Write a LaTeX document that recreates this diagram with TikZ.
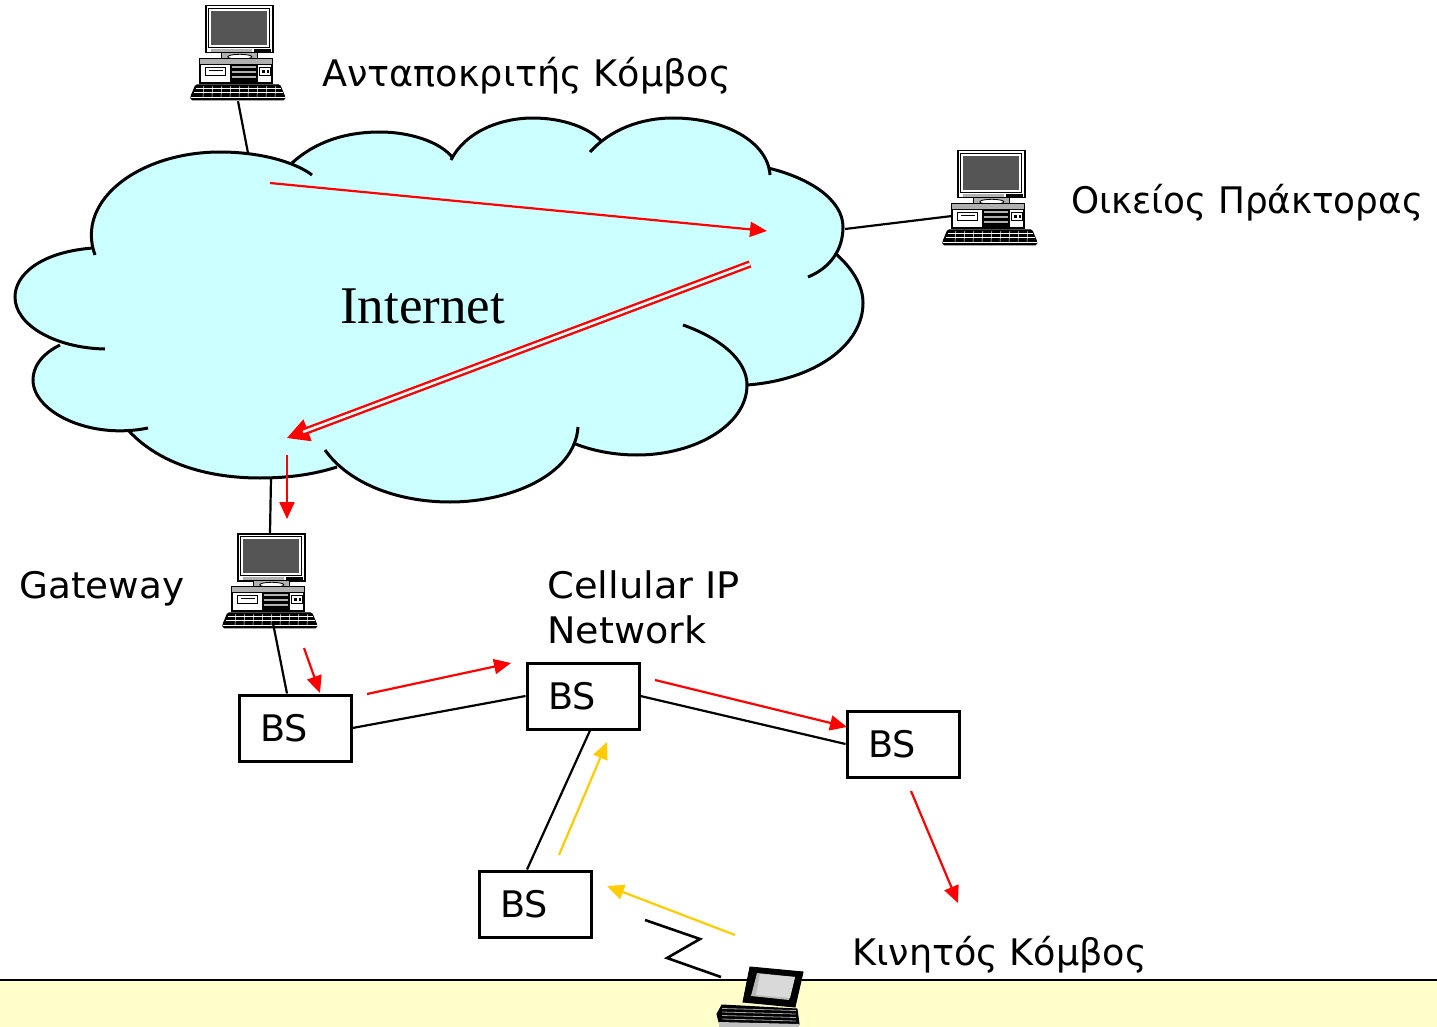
\documentclass[tikz,border=0pt]{standalone}
\usepackage{fontspec}
\setmainfont{DejaVu Sans}
\newfontfamily\timesfont{Liberation Serif}
\usetikzlibrary{arrows.meta}
\definecolor{cloudcol}{HTML}{CCFFFF}
\definecolor{bandcol}{HTML}{FFFFCC}
\definecolor{goldcol}{HTML}{FFCC00}
\definecolor{screencol}{HTML}{555555}
\definecolor{panelcol}{HTML}{B0B0B0}
\tikzset{
  lbl/.style={anchor=base west, inner sep=0pt, font=\fontsize{36.6}{43}\selectfont},
  bsbox/.style={draw=black, line width=3pt, fill=white, minimum height=66pt, inner xsep=21pt, inner ysep=0pt, font=\fontsize{36.6}{43}\selectfont},
  conn/.style={draw=black, line width=2.2pt},
  lobe/.style={draw=black, line width=3pt},
  redarr/.style={draw=red, line width=2.2pt, -{Triangle[length=17pt,width=15pt]}},
  goldarr/.style={draw=goldcol, line width=2.2pt, -{Triangle[length=17pt,width=15pt]}},
  iconspot/.style={minimum width=96pt, minimum height=96pt, inner sep=0pt},
  computer/.pic={
    % monitor
    \filldraw[fill=white, draw=black, line width=1.4pt] (16,1) rectangle (83,48);
    \draw[black, line width=0.8pt] (19,3.5) rectangle (80,43);
    \fill[screencol] (21.5,6) rectangle (77.5,40);
    \fill[black] (64,44) rectangle (81,47);
    \fill[panelcol] (21,44) rectangle (62,47);
    % stand
    \filldraw[fill=panelcol, draw=black, line width=1pt] (32,48) rectangle (68,56);
    \filldraw[fill=white, draw=black, line width=0.8pt] (50,52) ellipse [x radius=12pt, y radius=2.5pt];
    % base unit
    \filldraw[fill=panelcol, draw=black, line width=1.3pt] (10,54) rectangle (83,79);
    \filldraw[fill=white, draw=black, line width=1pt] (11,60) rectangle (82,78);
    \filldraw[fill=white, draw=black, line width=1.2pt] (16,63) rectangle (36,71);
    \draw[black, line width=0.8pt] (19,66) -- (33,66);
    \fill[black] (40,59) rectangle (68,79);
    \fill[panelcol] (42,61) rectangle (66,63.5);
    \fill[panelcol] (42,66) rectangle (66,68.5);
    \fill[panelcol] (42,71) rectangle (66,73.5);
    \filldraw[fill=white, draw=black, line width=1pt] (70,63) rectangle (81,71);
    \fill[black] (72,65.5) rectangle (75,68.5);
    \fill[black] (77,65.5) rectangle (79.5,68.5);
    % keyboard
    \filldraw[fill=black, draw=black, line width=1pt, rounded corners=1.5pt] (6,80) -- (90,80) -- (95,92) -- (95,95) -- (1,95) -- (1,92) -- cycle;
    \draw[white, line width=0.7pt] (6,84) -- (91,84);
    \draw[white, line width=0.7pt] (4,88) -- (93,88);
    \draw[white, line width=0.9pt] (1,92.5) -- (95,92.5);
    \foreach \k in {14,23,32,41,50,59,68,77,86} {\draw[white, line width=0.5pt] (\k,81) -- (\k-0.8,92);}
  }
}
\begin{document}
\begin{tikzpicture}[x=1pt,y=-1pt]
\useasboundingbox (0,0) rectangle (1437,1027);
\fill[white] (0,0) rectangle (1437,1027);

% bottom band
\fill[bandcol] (0,980) rectangle (1437,1027);
\coordinate (bandL) at (0,980);
\coordinate (bandR) at (1437,980);
\draw[black, line width=2.6pt] (bandL) -- (bandR);

% cloud fill
\fill[cloudcol]
  (95,255) .. controls (75,200) and (140,152) .. (220,152) .. controls (260,152) and (295,162) .. (312,175)
  -- (292,163) .. controls (315,142) and (345,132) .. (380,132) .. controls (410,132) and (440,142) .. (452,157)
  -- (451,160) .. controls (465,132) and (500,118) .. (533,118) .. controls (563,118) and (590,128) .. (602,142)
  -- (590,152) .. controls (610,130) and (640,118) .. (673,118) .. controls (725,118) and (768,142) .. (770,175)
  -- (768,168) .. controls (810,178) and (843,200) .. (843,227) .. controls (843,250) and (830,268) .. (808,277)
  -- (835,253) .. controls (852,268) and (863,285) .. (863,303) .. controls (863,345) and (815,380) .. (747,385)
  -- (683,325) .. controls (720,338) and (747,360) .. (747,385) .. controls (747,425) and (695,455) .. (637,455) .. controls (612,455) and (590,450) .. (573,443)
  -- (578,427) .. controls (575,475) and (510,502) .. (450,502) .. controls (400,502) and (350,485) .. (325,450)
  -- (337,467) .. controls (315,474) and (290,478) .. (260,478) .. controls (210,478) and (160,465) .. (128,430)
  -- (148,428) .. controls (90,440) and (33,412) .. (33,380) .. controls (33,368) and (40,355) .. (60,345)
  -- (105,349) .. controls (55,348) and (15,325) .. (15,297) .. controls (15,275) and (40,252) .. (93,248)
  -- cycle;
% cloud outlines (lobes)
\draw[lobe] (95,255) .. controls (75,200) and (140,152) .. (220,152) .. controls (260,152) and (295,162) .. (312,175);
\draw[lobe] (292,163) .. controls (315,142) and (345,132) .. (380,132) .. controls (410,132) and (440,142) .. (452,157);
\draw[lobe] (451,160) .. controls (465,132) and (500,118) .. (533,118) .. controls (563,118) and (590,128) .. (602,142);
\draw[lobe] (590,152) .. controls (610,130) and (640,118) .. (673,118) .. controls (725,118) and (768,142) .. (770,175);
\draw[lobe] (768,168) .. controls (810,178) and (843,200) .. (843,227) .. controls (843,250) and (830,268) .. (808,277);
\draw[lobe] (835,253) .. controls (852,268) and (863,285) .. (863,303) .. controls (863,345) and (815,380) .. (747,385);
\draw[lobe] (683,325) .. controls (720,338) and (747,360) .. (747,385) .. controls (747,425) and (695,455) .. (637,455) .. controls (612,455) and (590,450) .. (573,443);
\draw[lobe] (578,427) .. controls (575,475) and (510,502) .. (450,502) .. controls (400,502) and (350,485) .. (325,450);
\draw[lobe] (337,467) .. controls (315,474) and (290,478) .. (260,478) .. controls (210,478) and (160,465) .. (128,430);
\draw[lobe] (148,428) .. controls (90,440) and (33,412) .. (33,380) .. controls (33,368) and (40,355) .. (60,345);
\draw[lobe] (105,349) .. controls (55,348) and (15,325) .. (15,297) .. controls (15,275) and (40,252) .. (93,248);

\node[anchor=base west, inner sep=0pt, font=\timesfont\fontsize{53}{60}\selectfont] (inet) at (340,323) {Internet};

% cloud attachment points
\coordinate (cl1) at (248,153);
\coordinate (cl2) at (845,229);
\coordinate (cl3) at (271,478);

% computers
\node[iconspot] (c1) at (238,53) {};
\pic at (c1.north west) {computer};
\node[iconspot] (c2) at (990,198) {};
\pic at (c2.north west) {computer};
\node[iconspot] (gw) at (270,581) {};
\pic at (gw.north west) {computer};
\coordinate (c2port) at (952,216);

% labels
\node[lbl] (t1) at (322,87) {Ανταποκριτής Κόμβος};
\node[lbl] (t2) at (1071,214) {\scalebox{0.977}[1]{Οικείος Πράκτορας}};
\node[lbl] (t3) at (19,598) {\scalebox{1.02}[1]{Gateway}};
\node[lbl] (t4) at (547,598) {\scalebox{1.05}[1]{Cellular IP}};
\node[lbl] (t5) at (547,643) {\scalebox{1.04}[1]{Network}};
\node[lbl] (t6) at (852,965) {Κινητός Κόμβος};

% BS nodes
\node[bsbox] (bs1) at (295,728) {\makebox[70pt][l]{BS}};
\node[bsbox] (bs2) at (583,696) {\makebox[70pt][l]{BS}};
\node[bsbox] (bs3) at (903,744) {\makebox[70pt][l]{BS}};
\node[bsbox] (bs4) at (535,904) {\makebox[70pt][l]{BS}};

% black connectors
\draw[conn] (c1.south) -- (cl1);
\draw[conn] (cl2) -- (c2port);
\draw[conn] (cl3) -- (gw.north);
\draw[conn] ([xshift=3pt,yshift=6pt]gw.south) -- ([xshift=-8pt]bs1.north);
\draw[conn] (bs1.east) -- (bs2.west);
\draw[conn] (bs2.east) -- (bs3.west);
\draw[conn] ([xshift=7pt]bs2.south) -- ([xshift=-8pt]bs4.north);

% laptop (mobile node)
\coordinate (z1) at (645,920);
\coordinate (z2) at (700,939);
\coordinate (z3) at (667,958);
\coordinate (z4) at (721,977);
\draw[conn, line width=2.6pt] (z1) -- (z2) -- (z3) -- (z4);
\filldraw[fill=black, draw=black, line width=1pt] (750,967) -- (803,972) -- (795,1007) -- (743,1002) -- cycle;
\fill[gray!55] (757,973) -- (795,977) -- (789,1000) -- (751,996) -- cycle;
\fill[gray!30] (760,974) -- (795,977) -- (790,998) -- (756,995) -- cycle;
\filldraw[fill=black, draw=black, line width=1pt] (722,1005) -- (797,1009) -- (799,1024) -- (719,1022) -- (717,1014) -- cycle;
\foreach \s in {1008.5,1012,1015.5,1019} {\draw[gray!70, line width=0.8pt] (722,\s) -- (796,\s+2);}
\fill[gray!50] (719,1022) -- (799,1024) -- (799,1027) -- (719,1027) -- cycle;

% red arrows
\coordinate (r1a) at (270,183); \coordinate (r1b) at (767,231);
\draw[redarr] (r1a) -- (r1b);
\coordinate (r2a) at (750,264); \coordinate (r2b) at (287,438); \coordinate (r2c) at (303,432);
\draw[draw=red, line width=2pt, -{Triangle[length=22pt,width=23pt]}] (r2a) -- (r2b);
\draw[draw=red, line width=2.4pt, double=cloudcol, double distance=2.6pt] (r2a) -- (r2c);
\coordinate (r3a) at (287,455); \coordinate (r3b) at (287,519);
\draw[redarr] (r3a) -- (r3b);
\coordinate (r4a) at (304,648); \coordinate (r4b) at (320,693);
\draw[redarr] (r4a) -- (r4b);
\coordinate (r5a) at (367,694); \coordinate (r5b) at (511,663);
\draw[redarr] (r5a) -- (r5b);
\coordinate (r6a) at (655,680); \coordinate (r6b) at (847,727);
\draw[redarr] (r6a) -- (r6b);
\coordinate (r7a) at (911,791); \coordinate (r7b) at (958,903);
\draw[redarr] (r7a) -- (r7b);

% yellow arrows
\coordinate (y1a) at (559,855); \coordinate (y1b) at (607,742);
\draw[goldarr] (y1a) -- (y1b);
\coordinate (y2a) at (735,935); \coordinate (y2b) at (607,886);
\draw[goldarr] (y2a) -- (y2b);
\end{tikzpicture}
\end{document}
